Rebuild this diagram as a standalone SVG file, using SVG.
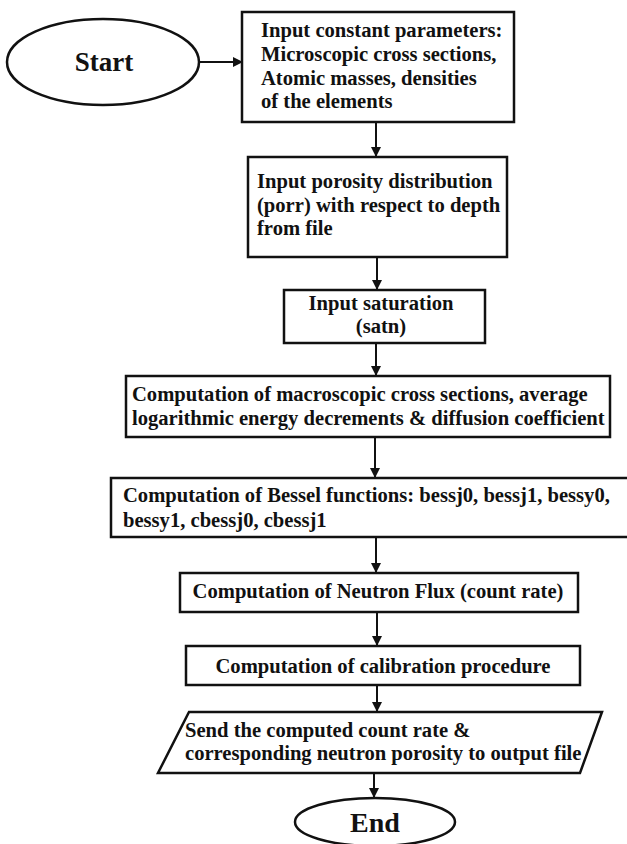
<svg xmlns="http://www.w3.org/2000/svg" width="627" height="844" viewBox="0 0 627 844">
<defs>
<marker id="ah" viewBox="0 0 10 10" refX="10" refY="5" markerWidth="10" markerHeight="10" markerUnits="userSpaceOnUse" orient="auto">
<path d="M0,0 L10,5 L0,10 z" fill="#111"/>
</marker>
<style>
.n{fill:#fff;stroke:#111;stroke-width:2.5}
.t{font-family:"Liberation Serif","Times New Roman",serif;font-weight:bold;font-size:20.6px;fill:#111}
.c{text-anchor:middle}
.e{fill:none;stroke:#111;stroke-width:2}
</style>
</defs>
<rect width="627" height="844" fill="#fff"/>
<g id="connectors">
<line class="e" x1="199" y1="62" x2="243" y2="62" marker-end="url(#ah)"/>
<line class="e" x1="376" y1="122" x2="376" y2="157" marker-end="url(#ah)"/>
<line class="e" x1="377" y1="257" x2="377" y2="290" marker-end="url(#ah)"/>
<line class="e" x1="376" y1="343" x2="376" y2="376" marker-end="url(#ah)"/>
<line class="e" x1="375" y1="437" x2="375" y2="478" marker-end="url(#ah)"/>
<line class="e" x1="376" y1="537" x2="376" y2="573" marker-end="url(#ah)"/>
<line class="e" x1="377" y1="612" x2="377" y2="646" marker-end="url(#ah)"/>
<line class="e" x1="377" y1="685" x2="377" y2="712" marker-end="url(#ah)"/>
<line class="e" x1="374" y1="773" x2="374" y2="798" marker-end="url(#ah)"/>
</g>
<g id="start">
<ellipse class="n" cx="103" cy="62" rx="96" ry="43"/>
<text class="t c" x="104" y="71" style="font-size:27px">Start</text>
</g>
<g id="input-constants">
<rect class="n" x="242" y="12" width="272" height="110"/>
<text class="t" x="261" y="37">Input constant parameters:</text>
<text class="t" x="261" y="61">Microscopic cross sections,</text>
<text class="t" x="261" y="85">Atomic masses, densities</text>
<text class="t" x="261" y="108">of the elements</text>
</g>
<g id="input-porosity">
<rect class="n" x="248" y="157" width="259" height="100"/>
<text class="t" x="257" y="188">Input porosity distribution</text>
<text class="t" x="257" y="212">(porr) with respect to depth</text>
<text class="t" x="257" y="235">from file</text>
</g>
<g id="input-saturation">
<rect class="n" x="284" y="290" width="201" height="53"/>
<text class="t c" x="381" y="310">Input saturation</text>
<text class="t c" x="381" y="333">(satn)</text>
</g>
<g id="macroscopic">
<rect class="n" x="126" y="376" width="484" height="61"/>
<text class="t" x="132" y="401">Computation of macroscopic cross sections, average</text>
<text class="t" x="132" y="425">logarithmic energy decrements &amp; diffusion coefficient</text>
</g>
<g id="bessel">
<rect class="n" x="111" y="478" width="520" height="59"/>
<text class="t" x="123" y="502">Computation of Bessel functions: bessj0, bessj1, bessy0,</text>
<text class="t" x="123" y="527">bessy1, cbessj0, cbessj1</text>
</g>
<g id="neutron-flux">
<rect class="n" x="180" y="573" width="398" height="39"/>
<text class="t c" x="378" y="598">Computation of Neutron Flux (count rate)</text>
</g>
<g id="calibration">
<rect class="n" x="186" y="646" width="394" height="39"/>
<text class="t c" x="383" y="673">Computation of calibration procedure</text>
</g>
<g id="output">
<polygon class="n" points="189,712 602,712 580,773 158,773"/>
<text class="t" x="185" y="737">Send the computed count rate &amp;</text>
<text class="t" x="185" y="760">corresponding neutron porosity to output file</text>
</g>
<g id="end">
<ellipse class="n" cx="375" cy="822" rx="80" ry="24"/>
<text class="t c" x="375" y="832" style="font-size:28px">End</text>
</g>
</svg>
